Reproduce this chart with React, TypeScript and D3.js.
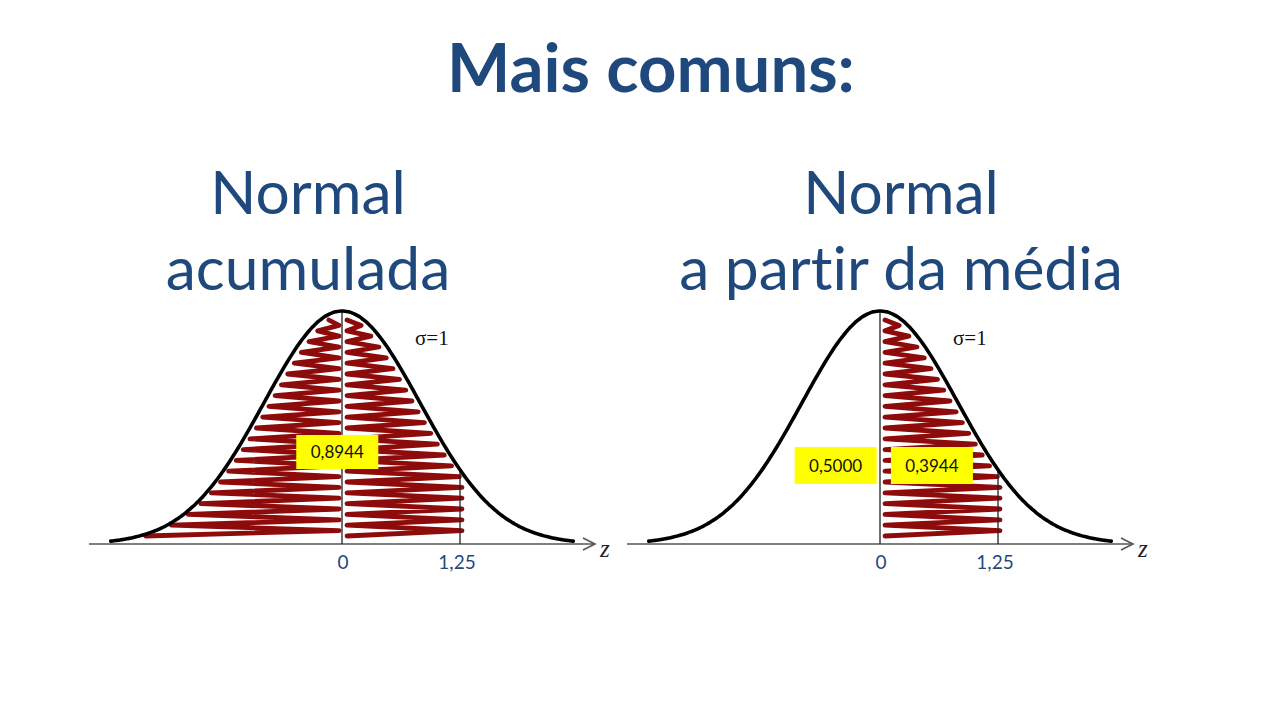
import React from "react";
import * as d3 from "d3";

// ---- content / data ----
const TITLE = "Mais comuns:";
const PANEL_TITLES: string[][] = [
  ["Normal", "acumulada"],
  ["Normal", "a partir da média"],
];
const TICK_VALUES = [0, 1.25];
const TICK_LABELS = ["0", "1,25"];
const SIGMA_LABEL = "σ=1";
const AXIS_LABEL = "z";
// shaded intervals (z units) for each panel
const SHADED: number[][][] = [
  [
    [-2.08, 0],
    [0, 1.25],
  ],
  [[0, 1.25]],
];
// probability boxes: label and z position of box centre
const BOX_LABELS: string[][] = [["0,8944"], ["0,5000", "0,3944"]];
const BOX_Z: number[][] = [[-0.05], [-0.47, 0.55]];

// ---- layout ----
const W = 1280;
const H = 720;
const PANEL_MEAN_X = [342, 880];
const HALF_SPAN = 231.3; // px for z from 0 to 2.45
const Z_MAX = 2.45;
const CURVE_SPREAD = 0.826; // drawn spread of the sketched bell, in z units
const BASE_Y = 544;
const PEAK_Y = 311;
const BLUE = "#1F497D";
const RED = "#8E0B0B";
const SANS = "Lato, 'Open Sans', sans-serif";
const SERIF = "'Liberation Serif', 'DejaVu Serif', serif";
const noLig = { fontVariantLigatures: "none" } as React.CSSProperties;

function Panel({ idx }: { idx: number }) {
  const mx = PANEL_MEAN_X[idx];
  const x = d3.scaleLinear().domain([-Z_MAX, Z_MAX]).range([mx - HALF_SPAN, mx + HALF_SPAN]);
  const y = d3.scaleLinear().domain([0, 1]).range([BASE_Y, PEAK_Y]);
  const dens = (z: number) => Math.exp(-0.5 * (z / CURVE_SPREAD) ** 2);
  const zs = d3.range(-Z_MAX, Z_MAX + 0.0001, 0.02);
  const curve = d3
    .line<number>()
    .x((z) => x(z))
    .y((z) => y(dens(z)))
    .curve(d3.curveBasis)(zs) as string;

  // half-width of curve at pixel height py, in z units
  const zAt = (py: number) => {
    const r = Math.min(1, Math.max(1e-6, y.invert(py)));
    return CURVE_SPREAD * Math.sqrt(-2 * Math.log(r));
  };

  const scribbles = SHADED[idx].map(([z0, z1], k) => {
    const pts: [number, number][] = [];
    const yTop = PEAK_Y + 9;
    const yBot = BASE_Y - 5;
    const step = 5.4;
    let i = 0;
    for (let py = yTop; py <= yBot; py += step, i++) {
      const zc = zAt(py);
      const gap = 4 + 5 * y.invert(py); // larger gap near the top
      let xl: number, xr: number;
      if (z1 <= 0) {
        xl = Math.max(x(-zc) + gap, x(z0));
        xr = x(z1) - 3;
      } else {
        xl = x(z0) + 5;
        xr = Math.min(x(zc) - gap, x(z1) + 2);
      }
      if (xr - xl < 6) {
        const c = (xl + xr) / 2;
        xl = c - 3;
        xr = c + 3;
      }
      pts.push([i % 2 === 0 ? xl : xr, py]);
    }
    return (
      <path
        key={k}
        d={d3.line()(pts) as string}
        fill="none"
        stroke={RED}
        strokeWidth={4.8}
        strokeLinejoin="round"
        strokeLinecap="round"
      />
    );
  });

  const zEnd = 1.25;
  const boxTop = idx === 0 ? 435 : 447;
  const boxH = idx === 0 ? 34 : 37;
  const boxW = 82;

  return (
    <g>
      {scribbles}
      {/* axis */}
      <line x1={mx - 253} x2={mx + 253} y1={BASE_Y} y2={BASE_Y} stroke="#555" strokeWidth={1.6} />
      <path
        d={`M${mx + 241},${BASE_Y - 6}L${mx + 253},${BASE_Y}L${mx + 241},${BASE_Y + 6}`}
        fill="none"
        stroke="#555"
        strokeWidth={1.6}
      />
      <text x={mx + 258} y={BASE_Y + 13} fontFamily={SERIF} fontStyle="italic" fontSize={25} fill="#222">
        {AXIS_LABEL}
      </text>
      {/* vertical lines */}
      <line x1={x(0)} x2={x(0)} y1={BASE_Y} y2={y(1)} stroke="#222" strokeWidth={1.3} />
      <line x1={x(zEnd)} x2={x(zEnd)} y1={BASE_Y} y2={y(dens(zEnd))} stroke="#222" strokeWidth={1.3} />
      {/* bell curve */}
      <path d={curve} fill="none" stroke="#000" strokeWidth={3.6} strokeLinecap="round" />
      {/* ticks */}
      {TICK_VALUES.map((t, j) => (
        <text
          key={j}
          x={x(t) - (j === 1 ? 3 : -1)}
          y={569}
          textAnchor="middle"
          fontFamily={SANS}
          fontSize={19}
          fill={BLUE}
        >
          {TICK_LABELS[j]}
        </text>
      ))}
      {/* sigma */}
      <text x={mx + 73} y={345} fontFamily={SERIF} fontSize={21} fill="#111">
        {SIGMA_LABEL}
      </text>
      {/* boxes */}
      {BOX_LABELS[idx].map((lab, j) => (
        <g key={j}>
          <rect x={x(BOX_Z[idx][j]) - boxW / 2} y={boxTop} width={boxW} height={boxH} fill="#FFFF00" />
          <text
            x={x(BOX_Z[idx][j])}
            y={boxTop + boxH / 2 + 6}
            textAnchor="middle"
            fontFamily={SANS}
            fontSize={17}
            fill="#111"
          >
            {lab}
          </text>
        </g>
      ))}
      {/* panel title */}
      {PANEL_TITLES[idx].map((t, j) => (
        <text
          key={j}
          x={idx === 0 ? 308 : 901}
          y={214 + j * 76}
          textAnchor="middle"
          fontFamily={SANS}
          fontSize={60.5}
          fill={BLUE}
          style={noLig}
        >
          {t}
        </text>
      ))}
    </g>
  );
}

export default function App() {
  return (
    <svg width={W} height={H} style={{ position: "absolute", left: 0, top: 0, background: "#fff" }}>
      <rect width={W} height={H} fill="#fff" />
      <text
        x={651}
        y={92}
        textAnchor="middle"
        fontFamily={SANS}
        fontWeight="bold"
        fontSize={67}
        fill={BLUE}
        style={noLig}
      >
        {TITLE}
      </text>
      <Panel idx={0} />
      <Panel idx={1} />
    </svg>
  );
}
